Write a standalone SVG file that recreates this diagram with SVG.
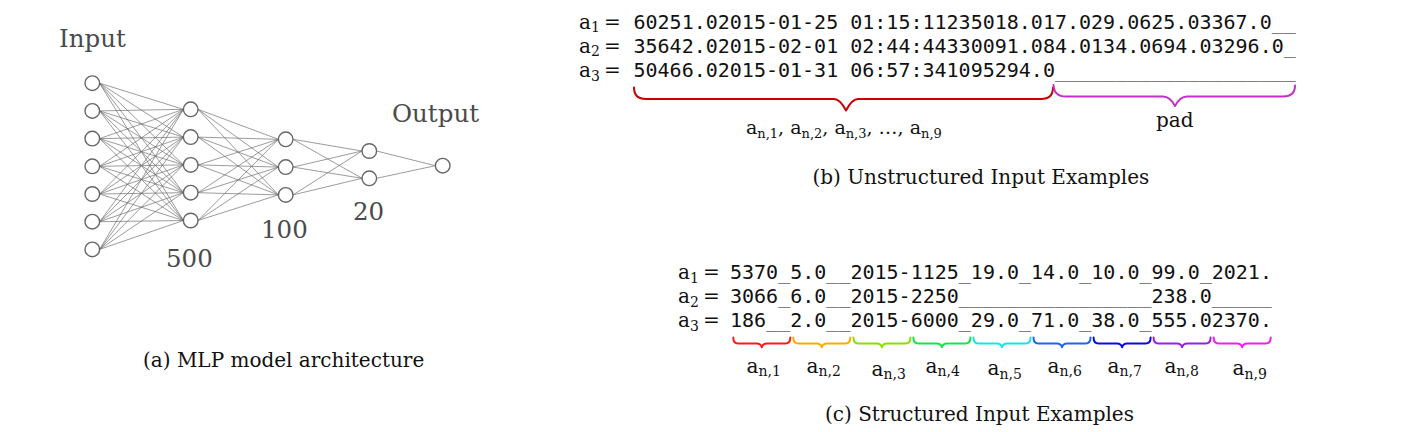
<svg xmlns="http://www.w3.org/2000/svg" width="1406" height="432" viewBox="0 0 1406 432">
<style>
.bg{fill:#ffffff}
.e{stroke:#666666;stroke-width:0.65;fill:none}
.n{fill:#ffffff;stroke:#666666;stroke-width:1.4}
.lbl{font-family:"DejaVu Serif",serif;font-size:24.5px;fill:#4a4a4a}
.cap{font-family:"DejaVu Serif",serif;font-size:20px;fill:#111111}
.mono{font-family:"DejaVu Sans Mono",monospace;font-size:20px;fill:#111111}
.u{fill:#808080}
.ser{font-family:"DejaVu Serif",serif;font-size:20px;fill:#111111}
.ser2{font-family:"DejaVu Serif",serif;font-size:19px;fill:#111111}
.sub{font-size:14px}
.sub2{font-size:13px}
.br{fill:none;stroke-width:2;stroke-linecap:round;stroke-linejoin:round}
</style>
<rect class="bg" x="0" y="0" width="1406" height="432"/>

<g id="connectors">
<path class="e" d="M99.6 83.2L183.4 109.3M99.6 83.2L183.4 137.1M99.6 83.2L183.4 164.9M99.6 83.2L183.4 192.7M99.6 83.2L183.4 220.5"/>
<path class="e" d="M99.6 110.9L183.4 109.3M99.6 110.9L183.4 137.1M99.6 110.9L183.4 164.9M99.6 110.9L183.4 192.7M99.6 110.9L183.4 220.5"/>
<path class="e" d="M99.6 138.6L183.4 109.3M99.6 138.6L183.4 137.1M99.6 138.6L183.4 164.9M99.6 138.6L183.4 192.7M99.6 138.6L183.4 220.5"/>
<path class="e" d="M99.6 166.3L183.4 109.3M99.6 166.3L183.4 137.1M99.6 166.3L183.4 164.9M99.6 166.3L183.4 192.7M99.6 166.3L183.4 220.5"/>
<path class="e" d="M99.6 194L183.4 109.3M99.6 194L183.4 137.1M99.6 194L183.4 164.9M99.6 194L183.4 192.7M99.6 194L183.4 220.5"/>
<path class="e" d="M99.6 221.7L183.4 109.3M99.6 221.7L183.4 137.1M99.6 221.7L183.4 164.9M99.6 221.7L183.4 192.7M99.6 221.7L183.4 220.5"/>
<path class="e" d="M99.6 249.4L183.4 109.3M99.6 249.4L183.4 137.1M99.6 249.4L183.4 164.9M99.6 249.4L183.4 192.7M99.6 249.4L183.4 220.5"/>
<path class="e" d="M198 109.3L278.4 139.3M198 109.3L278.4 167.1M198 109.3L278.4 194.9"/>
<path class="e" d="M198 137.1L278.4 139.3M198 137.1L278.4 167.1M198 137.1L278.4 194.9"/>
<path class="e" d="M198 164.9L278.4 139.3M198 164.9L278.4 167.1M198 164.9L278.4 194.9"/>
<path class="e" d="M198 192.7L278.4 139.3M198 192.7L278.4 167.1M198 192.7L278.4 194.9"/>
<path class="e" d="M198 220.5L278.4 139.3M198 220.5L278.4 167.1M198 220.5L278.4 194.9"/>
<path class="e" d="M293 139.3L362 151M293 139.3L362 178.3M293 167.1L362 151M293 167.1L362 178.3M293 194.9L362 151M293 194.9L362 178.3"/>
<path class="e" d="M376.6 151L435.4 165.7M376.6 178.3L435.4 165.7"/>
</g>

<g id="layer-input">
<g id="in1"><circle class="n" cx="92.3" cy="83.2" r="7.3"/></g>
<g id="in2"><circle class="n" cx="92.3" cy="110.9" r="7.3"/></g>
<g id="in3"><circle class="n" cx="92.3" cy="138.6" r="7.3"/></g>
<g id="in4"><circle class="n" cx="92.3" cy="166.3" r="7.3"/></g>
<g id="in5"><circle class="n" cx="92.3" cy="194" r="7.3"/></g>
<g id="in6"><circle class="n" cx="92.3" cy="221.7" r="7.3"/></g>
<g id="in7"><circle class="n" cx="92.3" cy="249.4" r="7.3"/></g>
</g>
<g id="layer-500">
<g id="h1a"><circle class="n" cx="190.7" cy="109.3" r="7.3"/></g>
<g id="h1b"><circle class="n" cx="190.7" cy="137.1" r="7.3"/></g>
<g id="h1c"><circle class="n" cx="190.7" cy="164.9" r="7.3"/></g>
<g id="h1d"><circle class="n" cx="190.7" cy="192.7" r="7.3"/></g>
<g id="h1e"><circle class="n" cx="190.7" cy="220.5" r="7.3"/></g>
</g>
<g id="layer-100">
<g id="h2a"><circle class="n" cx="285.7" cy="139.3" r="7.3"/></g>
<g id="h2b"><circle class="n" cx="285.7" cy="167.1" r="7.3"/></g>
<g id="h2c"><circle class="n" cx="285.7" cy="194.9" r="7.3"/></g>
</g>
<g id="layer-20">
<g id="h3a"><circle class="n" cx="369.3" cy="151" r="7.3"/></g>
<g id="h3b"><circle class="n" cx="369.3" cy="178.3" r="7.3"/></g>
</g>
<g id="layer-output">
<g id="out1"><circle class="n" cx="442.7" cy="165.7" r="7.3"/></g>
</g>

<g id="mlp-labels">
<text class="lbl" x="59" y="47">Input</text>
<text class="lbl" x="392" y="122">Output</text>
<text class="lbl" x="166" y="267">500</text>
<text class="lbl" x="261" y="238">100</text>
<text class="lbl" x="353" y="220">20</text>
</g>
<g id="caption-a"><text class="cap" x="143" y="366.5">(a) MLP model architecture</text></g>

<g id="unstructured">
<text class="ser" x="579" y="28.5">a<tspan class="sub" dy="3.5">1</tspan></text>
<text class="ser" x="604" y="28.5">=</text>
<text class="mono" x="633.5" y="28.5">60251.02015-01-25 01:15:11235018.017.029.0625.03367.0<tspan class="u">__</tspan></text>
<text class="ser" x="579" y="52.8">a<tspan class="sub" dy="3.5">2</tspan></text>
<text class="ser" x="604" y="52.8">=</text>
<text class="mono" x="633.5" y="52.8">35642.02015-02-01 02:44:44330091.084.0134.0694.03296.0<tspan class="u">_</tspan></text>
<text class="ser" x="579" y="77.2">a<tspan class="sub" dy="3.5">3</tspan></text>
<text class="ser" x="604" y="77.2">=</text>
<text class="mono" x="633.5" y="77.2">50466.02015-01-31 06:57:341095294.0<tspan class="u">____________________</tspan></text>
<path class="br" stroke="#c40000" d="M634 87.5Q634 99 646 99L834 99Q840 99 846 110.5Q852 99 858 99L1041 99Q1053 99 1053 87.5"/>
<path class="br" stroke="#c030c8" d="M1053.5 85Q1054 96.5 1066 96.5L1163 96.5Q1170 96.5 1175 106Q1180 96.5 1187 96.5L1283 96.5Q1295 96.5 1295 85.5"/>
<text class="ser2" x="746" y="134.3">a<tspan class="sub2" dy="3.5">n,1</tspan><tspan dy="-3.5">, a</tspan><tspan class="sub2" dy="3.5">n,2</tspan><tspan dy="-3.5">, a</tspan><tspan class="sub2" dy="3.5">n,3</tspan><tspan dy="-3.5">, …, a</tspan><tspan class="sub2" dy="3.5">n,9</tspan></text>
<text class="ser" x="1156" y="127">pad</text>
</g>
<g id="caption-b"><text class="cap" x="812.5" y="184">(b) Unstructured Input Examples</text></g>

<g id="structured">
<text class="ser" x="678" y="279.3">a<tspan class="sub" dy="3.5">1</tspan></text>
<text class="ser" x="703" y="279.3">=</text>
<text class="mono" x="730" y="279.3">5370<tspan class="u">_</tspan>5.0<tspan class="u">__</tspan>2015-1125<tspan class="u">_</tspan>19.0<tspan class="u">_</tspan>14.0<tspan class="u">_</tspan>10.0<tspan class="u">_</tspan>99.0<tspan class="u">_</tspan>2021.</text>
<text class="ser" x="678" y="303.3">a<tspan class="sub" dy="3.5">2</tspan></text>
<text class="ser" x="703" y="303.3">=</text>
<text class="mono" x="730" y="303.3">3066<tspan class="u">_</tspan>6.0<tspan class="u">__</tspan>2015-2250<tspan class="u">________________</tspan>238.0<tspan class="u">_____</tspan></text>
<text class="ser" x="678" y="327.3">a<tspan class="sub" dy="3.5">3</tspan></text>
<text class="ser" x="703" y="327.3">=</text>
<text class="mono" x="730" y="327.3">186<tspan class="u">__</tspan>2.0<tspan class="u">__</tspan>2015-6000<tspan class="u">_</tspan>29.0<tspan class="u">_</tspan>71.0<tspan class="u">_</tspan>38.0<tspan class="u">_</tspan>555.02370.</text>
<path class="br" stroke="#ff1a1a" d="M733.3 337.5Q733.3 343.5 738.3 343.5L756.8 343.5Q760.8 343.5 761.8 347.3Q762.8 343.5 766.8 343.5L785.3 343.5Q790.3 343.5 790.3 337.5"/>
<path class="br" stroke="#ffaa00" d="M793.3 337.5Q793.3 343.5 798.3 343.5L816.8 343.5Q820.8 343.5 821.8 347.3Q822.8 343.5 826.8 343.5L845.3 343.5Q850.3 343.5 850.3 337.5"/>
<path class="br" stroke="#88e000" d="M853.4 337.5Q853.4 343.5 858.4 343.5L876.9 343.5Q880.9 343.5 881.9 347.3Q882.9 343.5 886.9 343.5L905.4 343.5Q910.4 343.5 910.4 337.5"/>
<path class="br" stroke="#14e64a" d="M913.4 337.5Q913.4 343.5 918.4 343.5L936.9 343.5Q940.9 343.5 941.9 347.3Q942.9 343.5 946.9 343.5L965.4 343.5Q970.4 343.5 970.4 337.5"/>
<path class="br" stroke="#14e6e6" d="M973.5 337.5Q973.5 343.5 978.5 343.5L997 343.5Q1001 343.5 1002 347.3Q1003 343.5 1007 343.5L1025.5 343.5Q1030.5 343.5 1030.5 337.5"/>
<path class="br" stroke="#1a66f0" d="M1033.5 337.5Q1033.5 343.5 1038.5 343.5L1057 343.5Q1061 343.5 1062 347.3Q1063 343.5 1067 343.5L1085.5 343.5Q1090.5 343.5 1090.5 337.5"/>
<path class="br" stroke="#0a0ae6" d="M1093.6 337.5Q1093.6 343.5 1098.6 343.5L1117.1 343.5Q1121.1 343.5 1122.1 347.3Q1123.1 343.5 1127.1 343.5L1145.6 343.5Q1150.6 343.5 1150.6 337.5"/>
<path class="br" stroke="#9a1ef0" d="M1153.6 337.5Q1153.6 343.5 1158.6 343.5L1177.1 343.5Q1181.1 343.5 1182.1 347.3Q1183.1 343.5 1187.1 343.5L1205.6 343.5Q1210.6 343.5 1210.6 337.5"/>
<path class="br" stroke="#f01ef0" d="M1213.7 337.5Q1213.7 343.5 1218.7 343.5L1237.2 343.5Q1241.2 343.5 1242.2 347.3Q1243.2 343.5 1247.2 343.5L1265.7 343.5Q1270.7 343.5 1270.7 337.5"/>
<text class="ser" x="746.5" y="372.5">a<tspan class="sub" dy="3.5">n,1</tspan></text>
<text class="ser" x="806.5" y="372.5">a<tspan class="sub" dy="3.5">n,2</tspan></text>
<text class="ser" x="871.5" y="375.8">a<tspan class="sub" dy="3.5">n,3</tspan></text>
<text class="ser" x="925.5" y="372.5">a<tspan class="sub" dy="3.5">n,4</tspan></text>
<text class="ser" x="987.5" y="375">a<tspan class="sub" dy="3.5">n,5</tspan></text>
<text class="ser" x="1047.5" y="372.5">a<tspan class="sub" dy="3.5">n,6</tspan></text>
<text class="ser" x="1107.5" y="372.5">a<tspan class="sub" dy="3.5">n,7</tspan></text>
<text class="ser" x="1164.5" y="372.5">a<tspan class="sub" dy="3.5">n,8</tspan></text>
<text class="ser" x="1232.5" y="375">a<tspan class="sub" dy="3.5">n,9</tspan></text>
</g>
<g id="caption-c"><text class="cap" x="825" y="420.5">(c) Structured Input Examples</text></g>
</svg>
